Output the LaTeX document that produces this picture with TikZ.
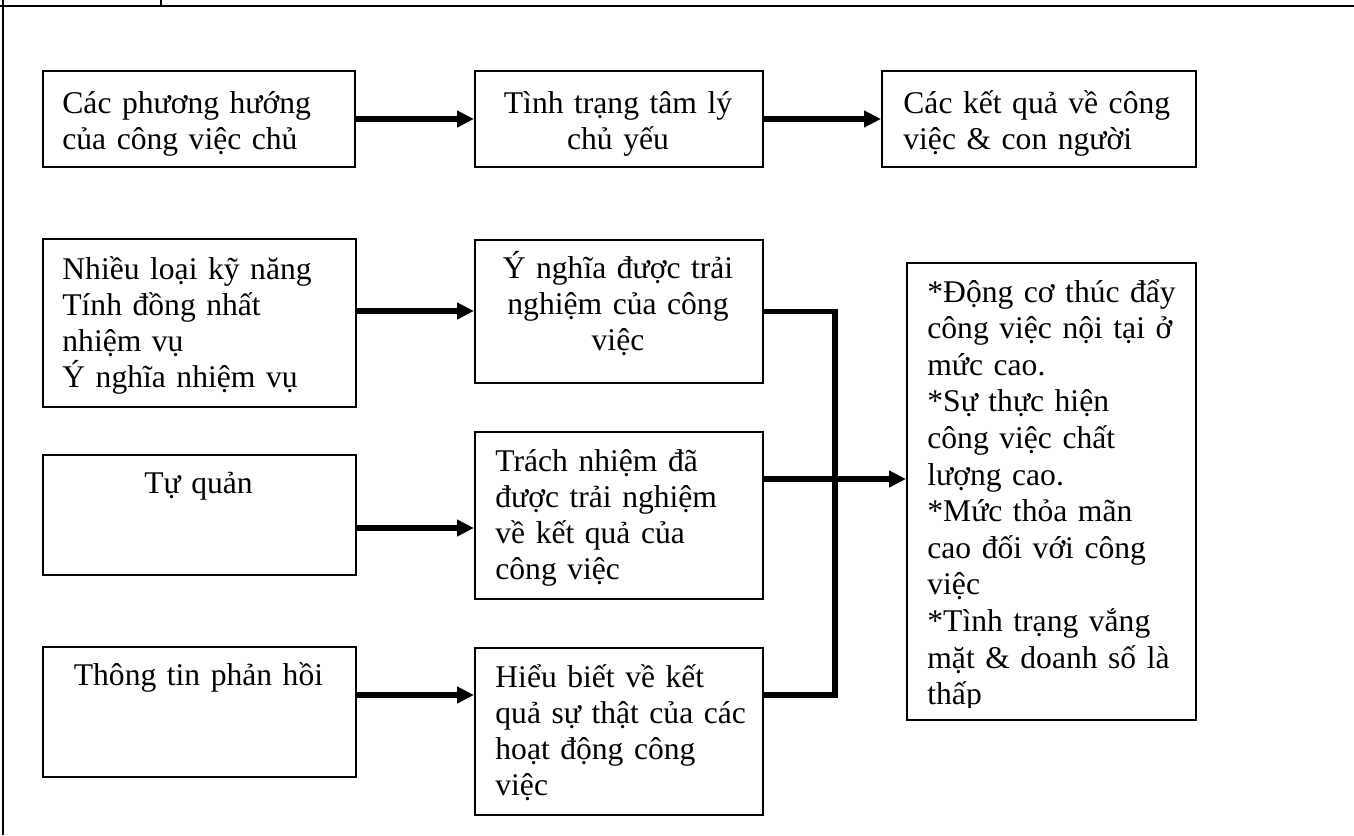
\documentclass[tikz,border=0pt]{standalone}
\usepackage{fontspec}
\setmainfont{Liberation Serif}
\usetikzlibrary{arrows.meta,calc}

\begin{document}
\begin{tikzpicture}[x=0.5pt,y=-0.5pt,
  box/.style={draw, line width=1pt, inner sep=0pt, anchor=north west},
  txt/.style={inner sep=0pt, font=\fontsize{15.8pt}{18pt}\selectfont, text width=150pt},
  lefttxt/.style={txt, anchor=base west, align=left},
  midtxt/.style={txt, anchor=base, align=center},
  arr/.style={line width=2.6pt, -{Triangle[length=8.5pt,width=8pt]}},
  conn/.style={line width=2.8pt, line join=miter},
  frame/.style={line width=1.2pt}]
\useasboundingbox (0,0) rectangle (1354,835);

% table frame around the figure
\draw[frame] (0,6) -- (1354,6);
\draw[frame] (3,0) -- (3,835);
\draw[frame] (161,0) -- (161,6);

% top row: general model
\node[box, minimum width=156pt, minimum height=48pt] (a1) at (42,70) {};
\node[box, minimum width=144pt, minimum height=48pt] (a2) at (474,70) {};
\node[box, minimum width=157pt, minimum height=48pt] (a3) at (881,70) {};
\node[lefttxt] (a1t) at (62,113) {Các phương hướng\\của công việc chủ};
\node[midtxt]  (a2t) at (618,113) {Tình trạng tâm lý\\chủ yếu};
\node[lefttxt] (a3t) at (903,113) {Các kết quả về công\\việc \& con người};
\draw[arr] (a1.east) -- (a2.west);
\draw[arr] (a2.east) -- (a2.east -| a3.west);

% left column: core job dimensions
\node[box, minimum width=156.5pt, minimum height=84pt] (l1) at (42,238) {};
\node[box, minimum width=156.5pt, minimum height=60pt] (l2) at (42,454) {};
\node[box, minimum width=156.5pt, minimum height=65pt] (l3) at (42,646) {};
\node[lefttxt] (l1t) at (62,279) {Nhiều loại kỹ năng\\Tính đồng nhất\\nhiệm vụ\\Ý nghĩa nhiệm vụ};
\node[midtxt]  (l2t) at (198.5,493) {Tự quản};
\node[midtxt]  (l3t) at (198.5,685) {Thông tin phản hồi};

% middle column: psychological states
\node[box, minimum width=144pt, minimum height=71.5pt] (m1) at (474,239) {};
\node[box, minimum width=144pt, minimum height=83.5pt] (m2) at (474,431) {};
\node[box, minimum width=144pt, minimum height=83.5pt] (m3) at (474,647) {};
\node[midtxt]  (m1t) at (618,278) {Ý nghĩa được trải\\nghiệm của công\\việc};
\node[lefttxt] (m2t) at (495,471) {Trách nhiệm đã\\được trải nghiệm\\về kết quả của\\công việc};
\node[lefttxt] (m3t) at (495,687) {Hiểu biết về kết\\quả sự thật của các\\hoạt động công\\việc};

% right column: outcomes (last line cut by the box's text area)
\node[box, minimum width=144.5pt, minimum height=228.5pt] (r) at (906,262) {};
\begin{scope}
  \clip (906,262) rectangle (1195,707);
  \node[lefttxt, font=\fontsize{15.8pt}{18.3pt}\selectfont] (rt) at (927,302)
    {*Động cơ thúc đẩy\\{}công việc nội tại ở\\{}mức cao.\\{}*Sự thực hiện\\{}công việc chất\\{}lượng cao.\\{}*Mức thỏa mãn\\{}cao đối với công\\{}việc\\{}*Tình trạng vắng\\{}mặt \& doanh số là\\{}thấp};
\end{scope}

% arrows from dimensions to states
\draw[arr] ([yshift=6pt]l1.east) -- ([yshift=6pt]l1.east -| m1.west);
\draw[arr] ([yshift=-6.5pt]l2.east) -- ([yshift=-6.5pt]l2.east -| m2.west);
\draw[arr] ([yshift=8.5pt]l3.east) -- ([yshift=8.5pt]l3.east -| m3.west);

% collecting bus from the states to the outcomes
\coordinate (bus) at (835,0);
\coordinate (m3o) at ([yshift=18.25pt]m3.east);
\draw[conn] (m1.east) -| (bus |- m3o) -- (m3o);
\draw[arr] ([yshift=18.25pt]m2.east) -- ([yshift=18.25pt]m2.east -| r.west);
\end{tikzpicture}
\end{document}
